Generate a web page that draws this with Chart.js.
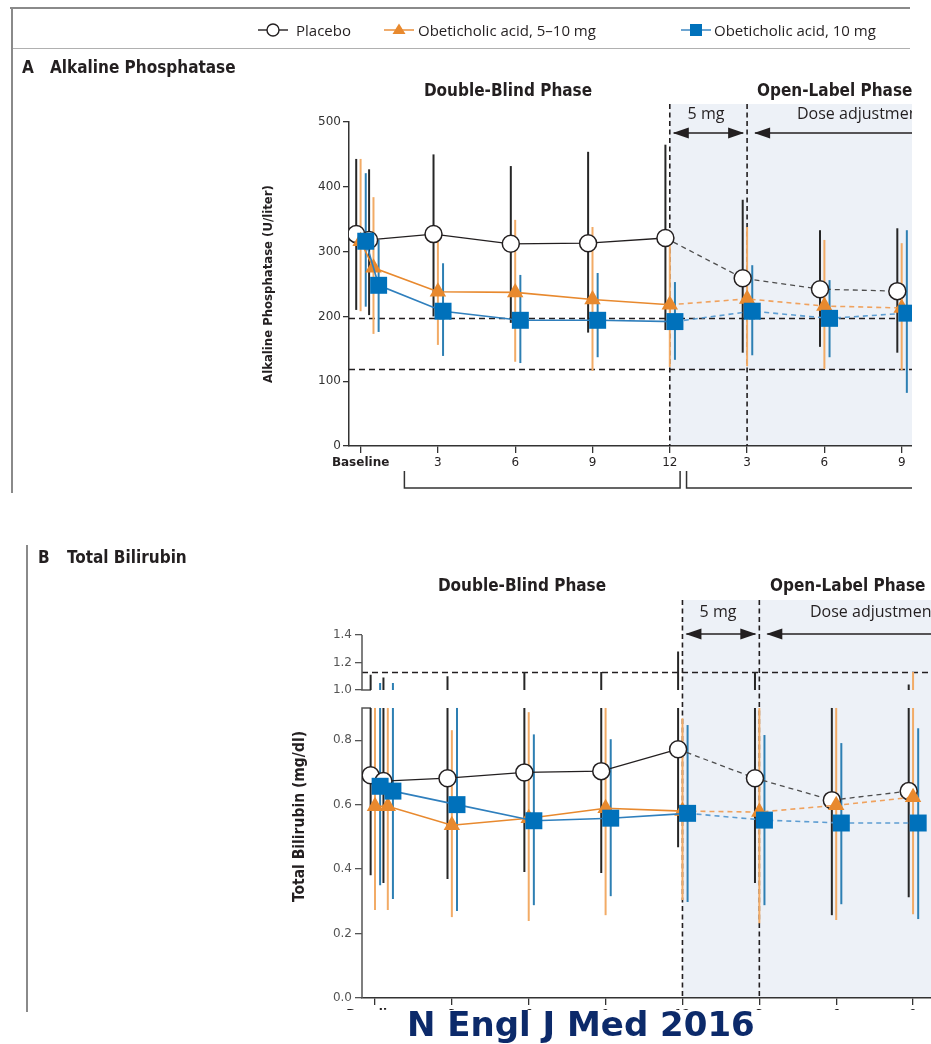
<!DOCTYPE html>
<html><head><meta charset="utf-8">
<script src="https://cdn.jsdelivr.net/npm/chart.js@4.4.0/dist/chart.umd.min.js"></script>
<style>
html,body{margin:0;padding:0;background:#fff;}
body{width:931px;height:1044px;position:relative;overflow:hidden;}
.abs{position:absolute;white-space:nowrap;}
.nar{font-family:"Liberation Sans Narrow","DejaVu Sans Condensed","Roboto Condensed",sans-serif;font-weight:bold;color:#231f20;}
.hum{font-family:"Open Sans","Lato",sans-serif;color:#231f20;}
#panelA{left:0;top:0;width:912px;height:500px;overflow:hidden;}
#panelB{left:0;top:500px;width:931px;height:510px;overflow:hidden;}
canvas{position:absolute;left:0;top:0;}
.rule{position:absolute;background:#8a8a8a;}
#wm{left:407px;top:1004px;font-family:"DejaVu Sans",Verdana,sans-serif;font-weight:bold;font-size:34px;color:#0c2a6a;line-height:40px;}
</style>
</head><body>
<div id="panelA" class="abs"><canvas id="chartA" width="912" height="500"></canvas></div>
<div id="panelB" class="abs"><canvas id="chartB" width="931" height="510"></canvas></div>

<div class="rule" style="left:10px;top:7px;width:900px;height:1.5px;"></div>
<div class="rule" style="left:11px;top:48px;width:899px;height:1.2px;background:#b0b0b0;"></div>
<div class="rule" style="left:11px;top:7px;width:1.8px;height:486px;"></div>
<div class="rule" style="left:26px;top:545px;width:1.8px;height:467px;"></div>
<div id="legend"></div>

<div class="abs nar" style="left:22px;top:57px;font-size:17px;line-height:20px;">A</div>
<div class="abs nar" style="left:50px;top:57px;font-size:17px;line-height:20px;">Alkaline Phosphatase</div>
<div class="abs nar" style="left:508px;top:80px;font-size:17px;line-height:20px;transform:translateX(-50%);">Double-Blind Phase</div>
<div class="abs nar" style="left:757px;top:80px;font-size:17px;line-height:20px;width:155px;overflow:hidden;">Open-Label Phase</div>
<div class="abs hum" style="left:706px;top:103px;font-size:16px;line-height:20px;transform:translateX(-50%);">5 mg</div>
<div class="abs hum" style="left:797px;top:103px;font-size:16px;line-height:20px;width:115px;overflow:hidden;">Dose adjustment</div>

<div class="abs nar" style="left:38px;top:547px;font-size:17px;line-height:20px;">B</div>
<div class="abs nar" style="left:67px;top:547px;font-size:17px;line-height:20px;">Total Bilirubin</div>
<div class="abs nar" style="left:522px;top:575px;font-size:17px;line-height:20px;transform:translateX(-50%);">Double-Blind Phase</div>
<div class="abs nar" style="left:770px;top:575px;font-size:17px;line-height:20px;">Open-Label Phase</div>
<div class="abs hum" style="left:718px;top:601px;font-size:16px;line-height:20px;transform:translateX(-50%);">5 mg</div>
<div class="abs hum" style="left:810px;top:601px;font-size:16px;line-height:20px;">Dose adjustment</div>

<div id="wm" class="abs">N Engl J Med 2016</div>

<script>
// ---------- DATA ----------
const months = [0, 0.5, 3, 6, 9, 12, 15, 18, 21];           // study month (open-label months 3,6,9 = 15,18,21)
const xTickValues = [0, 3, 6, 9, 12, 15, 18, 21];
const xTickLabels = ['Baseline', '3', '6', '9', '12', '3', '6', '9'];
const phaseBounds = [12, 15];
const seriesNames = ['Placebo', 'Obeticholic acid, 5\u201310 mg', 'Obeticholic acid, 10 mg'];

// Panel A: alkaline phosphatase (U/liter)
const alpPlacebo  = [327, 318, 327, 312, 313, 321, 259, 242, 239];
const alpOca5to10 = [316, 275, 238, 237, 226, 218, 227, 216, 213];
const alpOca10    = [316, 248, 208, 194, 194, 192, 208, 197, 205];
const alpPlaceboRange  = [[210,443],[202,427],[200,450],[190,432],[175,454],[179,465],[144,380],[153,333],[144,336]];
const alpOca5to10Range = [[208,443],[173,384],[156,322],[130,349],[116,338],[122,318],[123,338],[119,318],[117,313]];
const alpOca10Range    = [[215,421],[176,318],[139,282],[128,264],[137,267],[133,253],[140,279],[137,256],[82,333]];
const alpRefLines = [197, 119];
const alpYTicks = [0, 100, 200, 300, 400, 500];

// Panel B: total bilirubin (mg/dl)
const bilPlacebo  = [0.691, 0.673, 0.682, 0.700, 0.704, 0.772, 0.682, 0.614, 0.642];
const bilOca5to10 = [0.595, 0.595, 0.536, 0.558, 0.589, 0.580, 0.577, 0.598, 0.623];
const bilOca10    = [0.657, 0.642, 0.600, 0.550, 0.558, 0.573, 0.552, 0.543, 0.543];
const bilPlaceboRange  = [[0.381,1.11],[0.357,1.09],[0.369,1.10],[0.391,1.13],[0.388,1.13],[0.468,1.28],[0.357,1.13],[0.257,0.95],[0.313,1.04]];
const bilOca5to10Range = [[0.273,0.95],[0.273,0.95],[0.251,0.831],[0.239,0.887],[0.257,0.95],[0.304,0.868],[0.232,0.95],[0.242,0.95],[0.260,1.13]];
const bilOca10Range    = [[0.350,1.05],[0.307,1.05],[0.270,0.95],[0.288,0.818],[0.316,0.803],[0.298,0.847],[0.288,0.816],[0.291,0.791],[0.245,0.837]];
const bilRefLines = [1.13];
const bilYTicks = [0, 0.2, 0.4, 0.6, 0.8, 1.0, 1.2, 1.4];
const bilBreak = {lowMax: 0.9, highMin: 1.0};

// ---------- STYLES ----------
const styles = [
  {offset:-0.17, line:'#231f20', dash:'#4d4d4d', bar:'#262626', point:'circle',   r:8.5, fill:'#ffffff', stroke:'#231f20', lw:1.3, order:3},
  {offset:0,     line:'#e8892e', dash:'#f0a25e', bar:'#f2ab66', point:'triangle', r:9.5, fill:'#e8892e', stroke:'#e8892e', lw:1.6, order:2},
  {offset:0.2,   line:'#2f7fbd', dash:'#5d9dd2', bar:'#2d7fb3', point:'rect',     r:12,  fill:'#0071bb', stroke:'#0071bb', lw:1.6, order:1}
];
const TICK_FONT = {family:'"DejaVu Sans", Verdana, sans-serif', size:12};
const NARROW = '"Liberation Sans Narrow","DejaVu Sans Condensed","Roboto Condensed",sans-serif';
const SHADE = '#edf1f7';

// ---------- broken linear scale ----------
class BrokenLinearScale extends Chart.LinearScale {
  _brkDec(v) {
    const b = this.options.brk, lo = this.min, hi = this.max;
    if (v <= b.lowMax) return (v - lo) / (b.lowMax - lo) * b.lowFrac;
    if (v >= b.highMin) return b.highFrac + (v - b.highMin) / (hi - b.highMin) * (1 - b.highFrac);
    return b.lowFrac + (v - b.lowMax) / (b.highMin - b.lowMax) * (b.highFrac - b.lowFrac);
  }
  getPixelForValue(v) {
    if (!this.options.brk || v === null || v === undefined) return super.getPixelForValue(v);
    return this.getPixelForDecimal(this._brkDec(v));
  }
  getValueForPixel(p) {
    if (!this.options.brk) return super.getValueForPixel(p);
    const b = this.options.brk;
    const d = this.getDecimalForPixel(p);
    if (d <= b.lowFrac) return this.min + d / b.lowFrac * (b.lowMax - this.min);
    if (d >= b.highFrac) return b.highMin + (d - b.highFrac) / (1 - b.highFrac) * (this.max - b.highMin);
    return b.lowMax + (d - b.lowFrac) / (b.highFrac - b.lowFrac) * (b.highMin - b.lowMax);
  }
}
BrokenLinearScale.id = 'brokenLinear';
BrokenLinearScale.defaults = Chart.LinearScale.defaults;
Chart.register(BrokenLinearScale);

// ---------- legend (HTML) ----------
(function(){
  const lg = document.getElementById('legend');
  const pos = [{m:258, t:296}, {m:384, t:418}, {m:681, t:714}];
  seriesNames.forEach((name, k) => {
    const s = styles[k];
    const d = document.createElement('div');
    d.className = 'abs hum';
    d.style.cssText = `left:${pos[k].m}px;top:20px;height:20px;font-size:15px;line-height:20px;`;
    let mk;
    if (s.point === 'circle') mk = `<circle cx="15" cy="10" r="6" fill="#fff" stroke="${s.stroke}" stroke-width="1.4"/>`;
    else if (s.point === 'triangle') mk = `<polygon points="15,3.5 21.5,14 8.5,14" fill="${s.fill}"/>`;
    else mk = `<rect x="9" y="4" width="12" height="12" fill="${s.fill}"/>`;
    const svg = `<svg width="30" height="20" style="position:absolute;left:0;top:0"><line x1="0" y1="10" x2="30" y2="10" stroke="${s.line}" stroke-width="1.4"/>${mk}</svg>`;
    d.innerHTML = svg + `<span style="position:absolute;left:${pos[k].t - pos[k].m}px;top:0">${name}</span>`;
    lg.appendChild(d);
  });
})();

// ---------- decoration / error bar plugin ----------
function arrowHead(ctx, x, y, dir) {
  ctx.beginPath();
  ctx.moveTo(x, y);
  ctx.lineTo(x - dir * 16, y - 5.5);
  ctx.lineTo(x - dir * 16, y + 5.5);
  ctx.closePath();
  ctx.fill();
}
const decoPlugin = {
  id: 'deco',
  beforeDraw(chart, args, o) {
    const {ctx, chartArea: ca, scales: {x}} = chart;
    const x12 = x.getPixelForValue(phaseBounds[0]);
    const top = ca.top - o.shadeAbove;
    ctx.save();
    ctx.fillStyle = SHADE;
    ctx.fillRect(x12, top, ca.right + 2 - x12, ca.bottom - top);
    ctx.restore();
  },
  beforeDatasetsDraw(chart, args, o) {
    const {ctx, chartArea: ca, scales: {x, y}} = chart;
    const x12 = x.getPixelForValue(phaseBounds[0]);
    const x15 = x.getPixelForValue(phaseBounds[1]);
    const top = ca.top - o.shadeAbove;
    ctx.save();
    // reference (dashed) horizontal lines
    ctx.strokeStyle = '#231f20'; ctx.lineWidth = 1.4; ctx.setLineDash([6, 4]);
    o.refLines.forEach(v => {
      const py = Math.round(y.getPixelForValue(v)) + 0.5;
      ctx.beginPath(); ctx.moveTo(ca.left, py); ctx.lineTo(ca.right + 2, py); ctx.stroke();
    });
    // vertical phase lines
    ctx.lineWidth = 1.6; ctx.setLineDash([5, 3.5]);
    [x12, x15].forEach(px => {
      ctx.beginPath(); ctx.moveTo(px, top); ctx.lineTo(px, ca.bottom); ctx.stroke();
    });
    ctx.setLineDash([]);
    // arrows
    const ay = ca.top + o.arrowDy;
    ctx.fillStyle = '#231f20'; ctx.lineWidth = 1.5;
    ctx.beginPath(); ctx.moveTo(x12 + 4, ay); ctx.lineTo(x15 - 4, ay); ctx.stroke();
    arrowHead(ctx, x12 + 3, ay, -1); arrowHead(ctx, x15 - 3, ay, 1);
    ctx.beginPath(); ctx.moveTo(x15 + 8, ay); ctx.lineTo(ca.right + 2, ay); ctx.stroke();
    arrowHead(ctx, x15 + 7, ay, -1);
    // broken y axis line
    if (o.broken) {
      const b = o.broken;
      ctx.strokeStyle = '#555'; ctx.lineWidth = 1.5;
      const l = ca.left;
      const y0 = y.getPixelForValue(y.min), y1 = y.getPixelForValue(b.lowMax);
      const y2 = y.getPixelForValue(b.highMin), y3 = y.getPixelForValue(y.max);
      ctx.beginPath();
      ctx.moveTo(l, y0); ctx.lineTo(l, y1); ctx.lineTo(l + 9, y1);
      ctx.moveTo(l, y3); ctx.lineTo(l, y2); ctx.lineTo(l + 9, y2);
      ctx.stroke();
    }
    // error bars
    ctx.lineWidth = 2;
    o.ranges.forEach((rng, k) => {
      const meta = chart.getDatasetMeta(k);
      ctx.strokeStyle = styles[k].bar;
      rng.forEach((r, i) => {
        const px = meta.data[i].x;
        ctx.beginPath();
        if (o.broken) {
          const b = o.broken;
          ctx.moveTo(px, y.getPixelForValue(r[0]));
          ctx.lineTo(px, y.getPixelForValue(Math.min(r[1], b.lowMax)));
          if (r[1] > b.highMin) {
            ctx.moveTo(px, y.getPixelForValue(b.highMin));
            ctx.lineTo(px, y.getPixelForValue(r[1]));
          }
        } else {
          ctx.moveTo(px, y.getPixelForValue(r[0]));
          ctx.lineTo(px, y.getPixelForValue(r[1]));
        }
        ctx.stroke();
      });
    });
    // brackets under x axis
    if (o.brackets) {
      ctx.strokeStyle = '#333'; ctx.lineWidth = 1.5;
      const by = ca.bottom + o.brackets.dy, bt = ca.bottom + o.brackets.dyTop;
      const a1 = x.getPixelForValue(o.brackets.spans[0][0]), a2 = x.getPixelForValue(o.brackets.spans[0][1]);
      const c1 = x.getPixelForValue(o.brackets.spans[1][0]);
      ctx.beginPath();
      ctx.moveTo(a1, bt); ctx.lineTo(a1, by); ctx.lineTo(a2, by); ctx.lineTo(a2, bt);
      ctx.moveTo(c1, bt); ctx.lineTo(c1, by); ctx.lineTo(ca.right + 2, by);
      ctx.stroke();
    }
    ctx.restore();
  }
};

function buildDatasets(series) {
  return series.map((vals, k) => {
    const s = styles[k];
    return {
      label: seriesNames[k],
      data: months.map((m, i) => ({x: m + s.offset, y: vals[i]})),
      borderColor: s.line,
      borderWidth: s.lw,
      pointStyle: s.point,
      pointRadius: s.r,
      pointHoverRadius: s.r,
      pointBackgroundColor: s.fill,
      pointBorderColor: s.stroke,
      pointBorderWidth: s.point === 'circle' ? 1.5 : 0,
      order: s.order,
      tension: 0,
      fill: false,
      segment: {
        borderDash: c => c.p0.parsed.x >= phaseBounds[0] - 0.5 ? [5, 4] : undefined,
        borderColor: c => c.p0.parsed.x >= phaseBounds[0] - 0.5 ? s.dash : undefined
      }
    };
  });
}

function xScale(min, max, height, showLabels) {
  return {
    type: 'linear', min: min, max: max,
    afterBuildTicks: sc => { sc.ticks = xTickValues.map(v => ({value: v})); },
    afterFit: sc => { sc.height = height; },
    ticks: {
      display: showLabels, autoSkip: false, maxRotation: 0, padding: 3, color: '#231f20',
      font: c => ({family: TICK_FONT.family, size: 12, weight: (c.tick && c.tick.value === 0) ? 'bold' : 'normal'}),
      callback: (v, i) => xTickLabels[i]
    },
    grid: {drawOnChartArea: false, drawTicks: true, tickLength: 7, color: '#333', lineWidth: 1.3},
    border: {display: true, color: '#333', width: 1.5}
  };
}

// ---------- Chart A ----------
new Chart(document.getElementById('chartA'), {
  type: 'line',
  data: {datasets: buildDatasets([alpPlacebo, alpOca5to10, alpOca10])},
  options: {
    responsive: false, animation: false, events: [],
    layout: {autoPadding: false, padding: {top: 122, left: 0, right: 0, bottom: 0}},
    plugins: {
      legend: {display: false}, tooltip: {enabled: false},
      deco: {shadeAbove: 18, arrowDy: 11, refLines: alpRefLines,
             ranges: [alpPlaceboRange, alpOca5to10Range, alpOca10Range],
             brackets: {dy: 42, dyTop: 25, spans: [[1.7, 12.4], [12.65]]}}
    },
    scales: {
      x: xScale(-0.45, 21.4, 54, true),
      y: {
        type: 'linear', min: 0, max: 500,
        afterBuildTicks: sc => { sc.ticks = alpYTicks.map(v => ({value: v})); },
        afterFit: sc => { sc.width = 349; },
        ticks: {padding: 2, color: '#333', font: TICK_FONT},
        grid: {drawOnChartArea: false, drawTicks: true, tickLength: 6, color: '#333', lineWidth: 1.3},
        border: {display: true, color: '#333', width: 1.5},
        title: {display: true, text: 'Alkaline Phosphatase (U/liter)', color: '#231f20',
                font: {family: NARROW, size: 13, weight: 'bold'}, padding: {top: 261, bottom: 0}}
      }
    }
  },
  plugins: [decoPlugin]
});

// ---------- Chart B ----------
new Chart(document.getElementById('chartB'), {
  type: 'line',
  data: {datasets: buildDatasets([bilPlacebo, bilOca5to10, bilOca10])},
  options: {
    responsive: false, animation: false, events: [],
    layout: {autoPadding: false, padding: {top: 135, left: 0, right: 0, bottom: 0}},
    plugins: {
      legend: {display: false}, tooltip: {enabled: false},
      deco: {shadeAbove: 35, arrowDy: -1, refLines: bilRefLines,
             ranges: [bilPlaceboRange, bilOca5to10Range, bilOca10Range],
             broken: bilBreak}
    },
    scales: {
      x: xScale(-0.507, 21.7, 12, true),
      y: {
        type: 'brokenLinear', min: 0, max: 1.4,
        brk: {lowMax: bilBreak.lowMax, highMin: bilBreak.highMin, lowFrac: 0.799, highFrac: 0.8485},
        afterBuildTicks: sc => { sc.ticks = bilYTicks.map(v => ({value: v})); },
        afterFit: sc => { sc.width = 362; },
        ticks: {padding: 3, color: '#555', font: TICK_FONT, callback: v => Number(v).toFixed(1)},
        grid: {drawOnChartArea: false, drawTicks: true, tickLength: 7, color: '#555', lineWidth: 1.3},
        border: {display: false},
        title: {display: true, text: 'Total Bilirubin (mg/dl)', color: '#231f20',
                font: {family: NARROW, size: 15.5, weight: 'bold'}, padding: {top: 291, bottom: 0}}
      }
    }
  },
  plugins: [decoPlugin]
});
</script>
</body></html>
